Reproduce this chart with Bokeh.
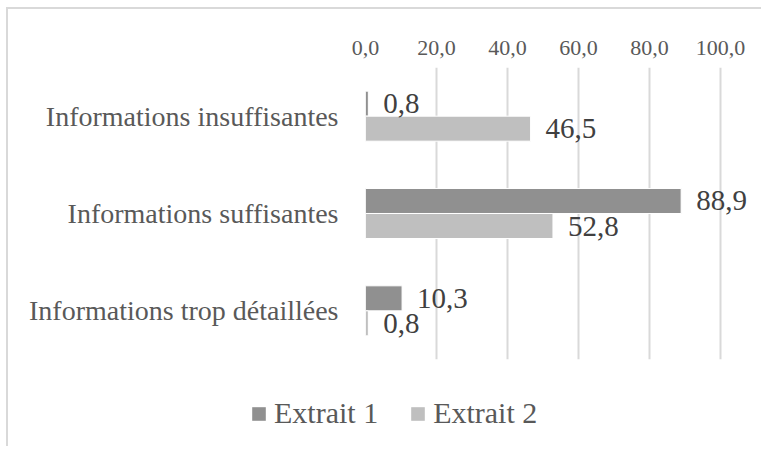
from bokeh.plotting import figure
from bokeh.models import (FixedTicker, CustomJSTickFormatter, ColumnDataSource, FactorRange,
                          Legend, LegendItem)
from bokeh.transform import dodge
from bokeh.core.properties import value
from bokeh.embed import file_html
from bokeh.resources import INLINE

categories = ["Informations insuffisantes", "Informations suffisantes", "Informations trop détaillées"]
extrait1 = [0.8, 88.9, 10.3]
extrait2 = [46.5, 52.8, 0.8]
series_names = ["Extrait 1", "Extrait 2"]
x_ticks = [0, 20, 40, 60, 80, 100]

FONT = "Liberation Serif"
C1 = "#909090"
C2 = "#bfbfbf"
BORDER = "#d9d9d9"

def fmt(v):
    return f"{v:.1f}".replace(".", ",")

src = ColumnDataSource(dict(
    cat=categories,
    e1=extrait1,
    e2=extrait2,
    l1=[fmt(v) for v in extrait1],
    l2=[fmt(v) for v in extrait2],
))

# the chart area border sits at x=6, y=7 (2px wide); contents start at (8, 9)
OX, OY = 8, 9
W = 763 - OX
H1 = 390 - OY
H2 = 58
p = figure(width=W, height=H1, output_backend="svg", toolbar_location=None,
           y_range=FactorRange(factors=list(reversed(categories)), range_padding=0),
           x_range=(0, 112.1), x_axis_location="above",
           min_border_left=365 - OX, min_border_top=67 - OY, min_border_right=0,
           min_border_bottom=H1 - (359 - OY))
p.styles = {"margin-left": "6px", "margin-top": "7px",
            "border-left": f"2px solid {BORDER}", "border-top": f"2px solid {BORDER}"}

off = 0.1285
bh = 0.257
p.hbar(y=dodge("cat", off, range=p.y_range), right="e1", left=0, height=bh, source=src,
       fill_color=C1, line_color="white", line_width=1)
p.hbar(y=dodge("cat", -off, range=p.y_range), right="e2", left=0, height=bh, source=src,
       fill_color=C2, line_color="white", line_width=1)

p.text(x="e1", y=dodge("cat", off, range=p.y_range), text="l1", source=src, x_offset=15,
       text_baseline="middle", text_font=value(FONT), text_font_size="29px", text_color="#404040")
p.text(x="e2", y=dodge("cat", -off, range=p.y_range), text="l2", source=src, x_offset=15,
       text_baseline="middle", text_font=value(FONT), text_font_size="29px", text_color="#404040")

p.outline_line_color = None
p.ygrid.grid_line_color = None
p.xgrid.grid_line_color = BORDER
p.xgrid.grid_line_width = 2
p.xgrid.ticker = FixedTicker(ticks=x_ticks)

xa = p.xaxis[0]
xa.ticker = FixedTicker(ticks=x_ticks)
xa.formatter = CustomJSTickFormatter(code="return tick.toFixed(1).replace('.', ',');")
xa.axis_line_color = None
xa.major_tick_line_color = None
xa.minor_tick_line_color = None
xa.major_label_text_font = FONT
xa.major_label_text_font_size = "22px"
xa.major_label_text_color = "#595959"
xa.major_label_standoff = 7

ya = p.yaxis[0]
ya.axis_line_color = None
ya.major_tick_line_color = None
ya.minor_tick_line_color = None
ya.major_label_text_font = FONT
ya.major_label_text_font_size = "28px"
ya.major_label_text_color = "#595959"
ya.major_label_standoff = 21

# legend strip (separate root, so that its frame is not aligned with the chart's)
p2 = figure(width=W, height=H2, output_backend="svg", toolbar_location=None,
            x_range=(-200, -100), y_range=FactorRange(factors=list(reversed(categories))),
            min_border_left=0, min_border_top=0, min_border_right=0, min_border_bottom=0)
p2.styles = {"margin-left": "6px", "border-left": f"2px solid {BORDER}"}
p2.axis.visible = False
p2.grid.grid_line_color = None
p2.outline_line_color = None
r1 = p2.hbar(y="cat", right="e1", left=0, height=0.5, source=src, fill_color=C1, line_color=None)
r2 = p2.hbar(y="cat", right="e2", left=0, height=0.5, source=src, fill_color=C2, line_color=None)
lg = Legend(items=[LegendItem(label=series_names[0], renderers=[r1]),
                   LegendItem(label=series_names[1], renderers=[r2])])
lg.orientation = "horizontal"
lg.location = (250 - OX, 16)
lg.label_text_font = FONT
lg.label_text_font_size = "30px"
lg.label_text_color = "#595959"
lg.glyph_width = 17
lg.glyph_height = 17
lg.label_standoff = 7
lg.spacing = 31
lg.padding = 0
lg.margin = 0
lg.border_line_color = None
lg.background_fill_alpha = 0
p2.add_layout(lg, "center")

open("out.html", "w").write(file_html([p, p2], INLINE))
